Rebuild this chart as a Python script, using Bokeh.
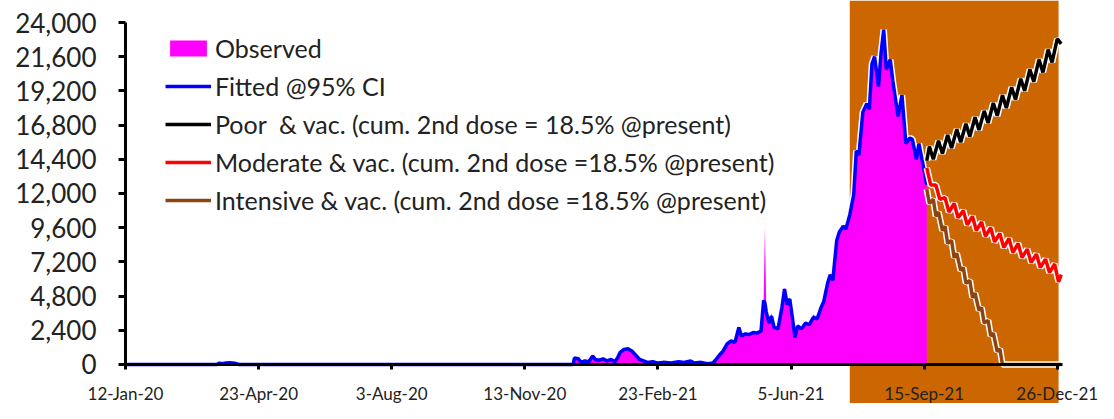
import pandas as pd
from bokeh.plotting import figure
from bokeh.models import (Range1d, FixedTicker, NumeralTickFormatter, BoxAnnotation,
                          Legend, LegendItem)
from bokeh.embed import file_html
from bokeh.resources import INLINE

# ---------------- data ----------------
start_date = "2020-01-12"
tick_dates = ["2020-01-12", "2020-04-23", "2020-08-03", "2020-11-13",
              "2021-02-23", "2021-06-05", "2021-09-15", "2021-12-26"]
tick_labels = ["12-Jan-20", "23-Apr-20", "3-Aug-20", "13-Nov-20",
               "23-Feb-21", "5-Jun-21", "15-Sep-21", "26-Dec-21"]
y_ticks = [0, 2400, 4800, 7200, 9600, 12000, 14400, 16800, 19200, 21600, 24000]
shade_dates = ["2021-07-20", "2021-12-27"]

# days since start_date
obs_day = [0, 70, 72, 74, 77, 80, 84, 87, 343, 344, 347, 349, 352, 355, 358, 360,
           363, 366, 369, 372, 375, 377, 379, 382, 385, 388, 391, 394, 397, 400,
           404, 408, 412, 418, 424, 428, 433, 436, 441, 446, 450, 452, 455, 458,
           461, 464, 467, 470, 472, 475, 478, 481, 484, 487, 489, 490, 491, 493,
           495, 497, 500, 503, 505, 507, 509, 511, 513, 515, 518, 521, 524, 527,
           530, 533, 535, 538, 540, 542, 545, 547, 550, 552, 555, 558, 560, 562,
           565, 568, 570, 572, 574, 577, 579, 581, 583, 586, 588, 592, 595, 598,
           601, 603, 606, 608, 611, 614]
obs_val = [0, 0, 150, 50, 120, 150, 100, 0, 0, 500, 450, 150, 250, 200, 700, 350,
           300, 450, 250, 350, 200, 500, 900, 1100, 1150, 1000, 700, 350, 250, 150,
           200, 100, 150, 100, 250, 150, 300, 100, 200, 50, 100, 300, 700, 1000,
           1500, 1700, 1600, 2700, 2000, 2200, 2100, 2300, 2200, 2400, 4600, 9600, 4000, 3000,
           3600, 2700, 2600, 4200, 5400, 4400, 4700, 3500, 1900, 2800, 2600, 3000, 2900, 3500,
           3300, 4100, 4500, 5800, 6400, 6000, 8800, 9400, 9800, 9600, 10600, 12000, 15100, 14800,
           17800, 18400, 18000, 21200, 21700, 19600, 22000, 23600, 20800, 21500, 20000, 17500, 19000, 15600,
           16000, 15900, 14500, 15600, 14200, 12300]
fit_val = [0, 0, 100, 50, 100, 120, 80, 0, 0, 450, 400, 150, 250, 200, 600, 350,
           300, 400, 250, 350, 200, 450, 850, 1050, 1100, 950, 650, 350, 250, 150,
           200, 100, 150, 100, 200, 150, 250, 100, 150, 50, 100, 300, 650, 950,
           1450, 1650, 1550, 2600, 2000, 2150, 2100, 2250, 2200, 2350, 4500, 4300, 3700, 2900,
           3400, 2600, 2500, 4000, 5300, 4200, 4600, 3300, 1900, 2700, 2500, 2900, 2800, 3300,
           3200, 4000, 4400, 5700, 6300, 5900, 8700, 9300, 9700, 9500, 10500, 11900, 15000, 14700,
           17700, 18300, 17900, 21100, 21600, 19500, 21900, 23500, 20700, 21400, 19900, 17400, 18900, 15500,
           15900, 15800, 14400, 15500, 14100, 12600]

poor_day = [614, 616, 619, 623, 626, 630, 633, 637, 640, 644, 647, 651, 654, 658, 661,
            665, 668, 672, 675, 679, 682, 686, 689, 693, 696, 700, 703, 707, 710, 714, 717]
poor_val = [14300, 15300, 14400, 15700, 14800, 16100, 15200, 16500, 15600, 16900, 16000,
            17350, 16450, 17800, 16950, 18350, 17450, 18900, 18000, 19450, 18600, 20050,
            19200, 20700, 19850, 21400, 20500, 22100, 21200, 22850, 22500]

mod_day = [614, 617, 621, 624, 628, 631, 635, 638, 642, 645, 649, 652, 656, 659, 663,
           666, 670, 673, 677, 680, 684, 687, 691, 694, 698, 701, 705, 708, 712, 715, 717]
mod_val = [13800, 12600, 12600, 11600, 11700, 10700, 11300, 10300, 10800, 9800, 10400,
           9400, 10000, 9000, 9600, 8600, 9200, 8200, 8850, 7850, 8500, 7500, 8100, 7150,
           7750, 6800, 7400, 6450, 7050, 5800, 6300]

int_day = [614, 616, 619, 621, 623, 626, 628, 630, 633, 635, 637, 640, 642, 644, 647,
           649, 651, 654, 656, 658, 661, 663, 665, 668, 670, 672, 717]
int_val = [12300, 11300, 11600, 10400, 10700, 9400, 9700, 8500, 8700, 7500, 7800, 6600,
           6800, 5700, 5900, 4700, 5000, 3800, 4000, 2900, 3100, 2000, 2200, 900, 1100, 0, 0]

labels = ["Observed", "Fitted @95% CI",
          "Poor  & vac. (cum. 2nd dose = 18.5% @present)",
          "Moderate & vac. (cum. 2nd dose =18.5% @present)",
          "Intensive & vac. (cum. 2nd dose =18.5% @present)"]

# ---------------- helpers ----------------
t0 = pd.Timestamp(start_date)
tick_pos = [(pd.Timestamp(d) - t0).days for d in tick_dates]
shade = [(pd.Timestamp(d) - t0).days for d in shade_dates]

FONT = "Lato"
TXT = "#222222"

p = figure(width=1098, height=403, output_backend="svg", toolbar_location=None,
           x_range=Range1d(-95.8, 745.6), y_range=Range1d(-2737, 25544),
           min_border_left=0, min_border_right=0, min_border_top=0,
           min_border_bottom=0)
p.outline_line_color = None
p.grid.visible = False

# orange shaded projection window (full height)
box = BoxAnnotation(left=shade[0], right=shade[1],
                    fill_color="#CC6600", fill_alpha=1.0, line_color=None,
                    level="underlay")
p.add_layout(box)

# observed + fitted
p.line(obs_day, fit_val, line_color="white", line_width=6.5)
r_obs = p.varea(x=obs_day, y1=[0] * len(obs_day), y2=obs_val, fill_color="#FF00FF")
r_fit = p.line(obs_day, fit_val, line_color="#0000FF", line_width=3.5)

# projections with white halo
p.line(poor_day, poor_val, line_color="white", line_width=6.5)
r_poor = p.line(poor_day, poor_val, line_color="black", line_width=3.5)
p.line(mod_day, mod_val, line_color="white", line_width=6.5)
r_mod = p.line(mod_day, mod_val, line_color="#FF0000", line_width=3.5)
p.line(int_day, int_val, line_color="white", line_width=6.5)
r_int = p.line(int_day, int_val, line_color="#8B4513", line_width=3.5)

# axes (drawn at data zero, inside the frame)
xa = p.xaxis[0]
xa.fixed_location = 0
xa.ticker = FixedTicker(ticks=tick_pos)
xa.major_label_overrides = {tp: lab for tp, lab in zip(tick_pos, tick_labels)}
xa.bounds = (0, 718)
xa.axis_line_width = 3
xa.axis_line_color = "black"
xa.major_tick_line_width = 3
xa.major_tick_out = 5
xa.major_tick_in = 0
xa.minor_tick_line_color = None
xa.major_label_standoff = 14
xa.major_label_text_font = FONT
xa.major_label_text_font_size = "17px"
xa.major_label_text_color = TXT

ya = p.yaxis[0]
ya.fixed_location = 0
ya.ticker = FixedTicker(ticks=y_ticks)
ya.formatter = NumeralTickFormatter(format="0,0")
ya.bounds = (0, 24000)
ya.axis_line_width = 3
ya.axis_line_color = "black"
ya.major_tick_line_width = 3
ya.major_tick_out = 7
ya.major_tick_in = 0
ya.minor_tick_line_color = None
ya.major_label_standoff = 22
ya.major_label_text_font = FONT
ya.major_label_text_font_size = "26px"
ya.major_label_text_color = TXT

legend = Legend(items=[LegendItem(label=labels[0], renderers=[r_obs]),
                       LegendItem(label=labels[1], renderers=[r_fit]),
                       LegendItem(label=labels[2], renderers=[r_poor]),
                       LegendItem(label=labels[3], renderers=[r_mod]),
                       LegendItem(label=labels[4], renderers=[r_int])],
                location=(165, 184), orientation="vertical",
                glyph_width=46, glyph_height=20, label_height=38,
                spacing=0, padding=0, margin=0, label_standoff=4,
                label_text_font=FONT, label_text_font_size="25px",
                label_text_color=TXT, background_fill_alpha=0,
                border_line_color=None)
p.add_layout(legend)

open("out.html", "w").write(file_html(p, INLINE))
